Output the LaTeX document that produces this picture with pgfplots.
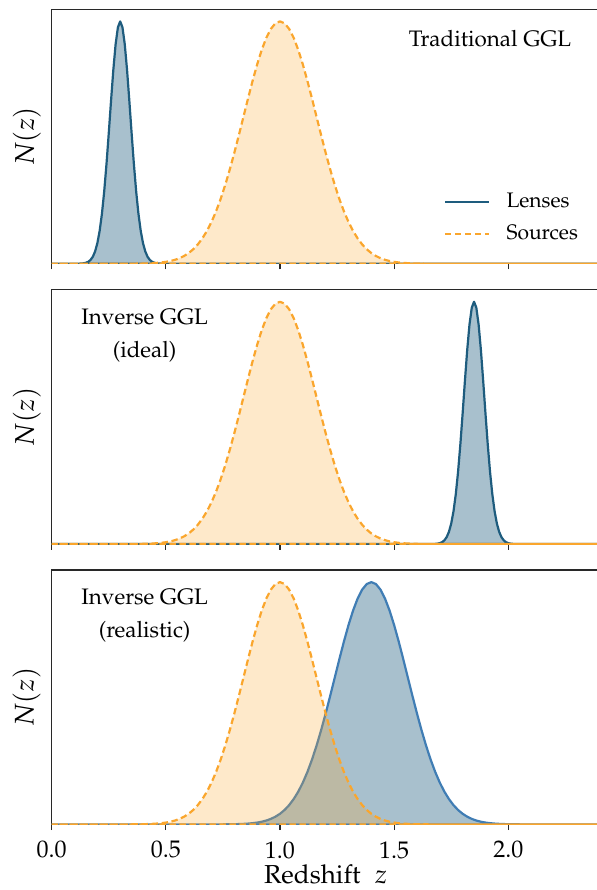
\documentclass[border=0pt]{standalone}
\usepackage[T1]{fontenc}
\usepackage{mathpazo}
\usepackage{pgfplots}
\usepackage{pgfplotstable}
\pgfplotsset{compat=1.18}

\definecolor{lensline}{RGB}{30,92,126}
\definecolor{lensline3}{RGB}{64,125,180}
\definecolor{lensfill}{RGB}{168,192,205}
\definecolor{srcline}{RGB}{250,166,45}
\definecolor{frame}{RGB}{40,40,40}

% Source redshift distribution (same in every panel), peak-normalised
\pgfplotstableread{
z n
0.00 0
0.30 0
0.36 0.0003
0.40 0.0009
0.42 0.0014
0.44 0.0022
0.46 0.0034
0.48 0.0051
0.50 0.0076
0.52 0.0111
0.54 0.0160
0.56 0.0228
0.58 0.0319
0.60 0.0439
0.62 0.0596
0.64 0.0796
0.66 0.1046
0.68 0.1353
0.70 0.1724
0.72 0.2163
0.74 0.2671
0.76 0.3247
0.78 0.3886
0.80 0.4578
0.82 0.5311
0.84 0.6065
0.86 0.6819
0.88 0.7548
0.90 0.8226
0.92 0.8825
0.94 0.9321
0.96 0.9692
0.98 0.9922
1.00 1.0000
1.02 0.9922
1.04 0.9692
1.06 0.9321
1.08 0.8825
1.10 0.8226
1.12 0.7548
1.14 0.6819
1.16 0.6065
1.18 0.5311
1.20 0.4578
1.22 0.3886
1.24 0.3247
1.26 0.2671
1.28 0.2163
1.30 0.1724
1.32 0.1353
1.34 0.1046
1.36 0.0796
1.38 0.0596
1.40 0.0439
1.42 0.0319
1.44 0.0228
1.46 0.0160
1.48 0.0111
1.50 0.0076
1.52 0.0051
1.54 0.0034
1.56 0.0022
1.58 0.0014
1.60 0.0009
1.64 0.0003
1.70 0
2.40 0
}\src

% Lenses, traditional GGL (low redshift)
\pgfplotstableread{
z n
0.00 0
0.11 0
0.12 0.0003
0.13 0.0008
0.14 0.0018
0.15 0.0039
0.16 0.0079
0.17 0.0154
0.18 0.0286
0.19 0.0504
0.20 0.0847
0.21 0.1353
0.22 0.2059
0.23 0.2982
0.24 0.4111
0.25 0.5394
0.26 0.6736
0.27 0.8007
0.28 0.9060
0.29 0.9756
0.30 1.0000
0.31 0.9756
0.32 0.9060
0.33 0.8007
0.34 0.6736
0.35 0.5394
0.36 0.4111
0.37 0.2982
0.38 0.2059
0.39 0.1353
0.40 0.0847
0.41 0.0504
0.42 0.0286
0.43 0.0154
0.44 0.0079
0.45 0.0039
0.46 0.0018
0.47 0.0008
0.48 0.0003
0.49 0
2.40 0
}\lensA

% Lenses, inverse GGL (ideal, high redshift)
\pgfplotstableread{
z n
0.00 0
1.66 0
1.67 0.0003
1.68 0.0008
1.69 0.0018
1.70 0.0039
1.71 0.0079
1.72 0.0154
1.73 0.0286
1.74 0.0504
1.75 0.0847
1.76 0.1353
1.77 0.2059
1.78 0.2982
1.79 0.4111
1.80 0.5394
1.81 0.6736
1.82 0.8007
1.83 0.9060
1.84 0.9756
1.85 1.0000
1.86 0.9756
1.87 0.9060
1.88 0.8007
1.89 0.6736
1.90 0.5394
1.91 0.4111
1.92 0.2982
1.93 0.2059
1.94 0.1353
1.95 0.0847
1.96 0.0504
1.97 0.0286
1.98 0.0154
1.99 0.0079
2.00 0.0039
2.01 0.0018
2.02 0.0008
2.03 0.0003
2.04 0
2.40 0
}\lensB

% Lenses, inverse GGL (realistic, broad)
\pgfplotstableread{
z n
0.00 0
0.70 0
0.76 0.0003
0.80 0.0009
0.82 0.0014
0.84 0.0022
0.86 0.0034
0.88 0.0051
0.90 0.0076
0.92 0.0111
0.94 0.0160
0.96 0.0228
0.98 0.0319
1.00 0.0439
1.02 0.0596
1.04 0.0796
1.06 0.1046
1.08 0.1353
1.10 0.1724
1.12 0.2163
1.14 0.2671
1.16 0.3247
1.18 0.3886
1.20 0.4578
1.22 0.5311
1.24 0.6065
1.26 0.6819
1.28 0.7548
1.30 0.8226
1.32 0.8825
1.34 0.9321
1.36 0.9692
1.38 0.9922
1.40 1.0000
1.42 0.9922
1.44 0.9692
1.46 0.9321
1.48 0.8825
1.50 0.8226
1.52 0.7548
1.54 0.6819
1.56 0.6065
1.58 0.5311
1.60 0.4578
1.62 0.3886
1.64 0.3247
1.66 0.2671
1.68 0.2163
1.70 0.1724
1.72 0.1353
1.74 0.1046
1.76 0.0796
1.78 0.0596
1.80 0.0439
1.82 0.0319
1.84 0.0228
1.86 0.0160
1.88 0.0111
1.90 0.0076
1.92 0.0051
1.94 0.0034
1.96 0.0022
1.98 0.0014
2.00 0.0009
2.04 0.0003
2.10 0
2.40 0
}\lensC

\pgfplotsset{
  zpanel/.style={
    scale only axis, width=273.96pt, height=127.2pt,
    xmin=0, xmax=2.4, ymin=0, ymax=1.05,
    xtick={0,0.5,1,1.5,2}, ytick=\empty,
    xtick pos=bottom, tick align=outside, major tick length=2.8pt,
    axis line style={frame, line width=0.6pt},
    every tick/.style={frame, line width=0.6pt},
    xticklabel style={font=\fontsize{12}{13}\selectfont, inner sep=0pt},
    xticklabel shift=5.5pt,
    /pgf/number format/.cd, fixed, fixed zerofill, precision=1, /pgfplots/.cd,
    ylabel={$N(z)$},
    ylabel style={font=\fontsize{13.5}{15}\selectfont, at={(axis description cs:-0.0456,0.5)}, anchor=center},
    clip=true,
  },
  lens/.style={draw=lensline, line width=1.1pt, line join=round, fill=lensfill},
  source/.style={draw=srcline, line width=1.1pt, line join=round, dash pattern=on 3.2pt off 1.8pt,
    fill=srcline, fill opacity=0.25},
}

\begin{document}
\begin{tikzpicture}
% Panel 1: traditional galaxy-galaxy lensing
\begin{axis}[zpanel, at={(0pt,0pt)}, anchor=north west, xticklabels={},
  legend style={draw=none, fill=none, at={(axis cs:1.69,0.189)}, anchor=west,
    font=\fontsize{10.5}{12}\selectfont, row sep=3pt, column sep=6pt},
  legend cell align=left,
  legend image code/.code={\draw[#1, fill=none] (0pt,0pt) -- (22.2pt,0pt);}]
\addplot[lens] table[x=z, y=n] {\lensA} \closedcycle;
\addlegendentry{Lenses}
\addplot[source] table[x=z, y=n] {\src} \closedcycle;
\addlegendentry{Sources}
\node[font=\fontsize{11.2}{13}\selectfont] at (axis cs:1.92,0.93) {Traditional GGL};
\end{axis}

% Panel 2: inverse lensing, ideal lens sample
\begin{axis}[zpanel, at={(0pt,-140.175pt)}, anchor=north west, xticklabels={}]
\addplot[lens] table[x=z, y=n] {\lensB} \closedcycle;
\addplot[source] table[x=z, y=n] {\src} \closedcycle;
\node[font=\fontsize{11.2}{16.35}\selectfont, align=center] at (axis cs:0.407,0.86) {Inverse GGL\\(ideal)};
\end{axis}

% Panel 3: inverse lensing, realistic lens sample
\begin{axis}[zpanel, at={(0pt,-280.35pt)}, anchor=north west,
  xlabel={Redshift\hspace{0.55em}$z$},
  xlabel style={font=\fontsize{13}{14}\selectfont, inner sep=0pt, at={(axis description cs:0.5,-0.1975)}, anchor=center}]
\addplot[lens, draw=lensline3] table[x=z, y=n] {\lensC} \closedcycle;
\addplot[source] table[x=z, y=n] {\src} \closedcycle;
\node[font=\fontsize{11.2}{16.35}\selectfont, align=center] at (axis cs:0.407,0.862) {Inverse GGL\\(realistic)};
\end{axis}

\pgfresetboundingbox
\path[use as bounding box] (-25.85pt,4.65pt) rectangle (272.65pt,-440.35pt);
\end{tikzpicture}
\end{document}
